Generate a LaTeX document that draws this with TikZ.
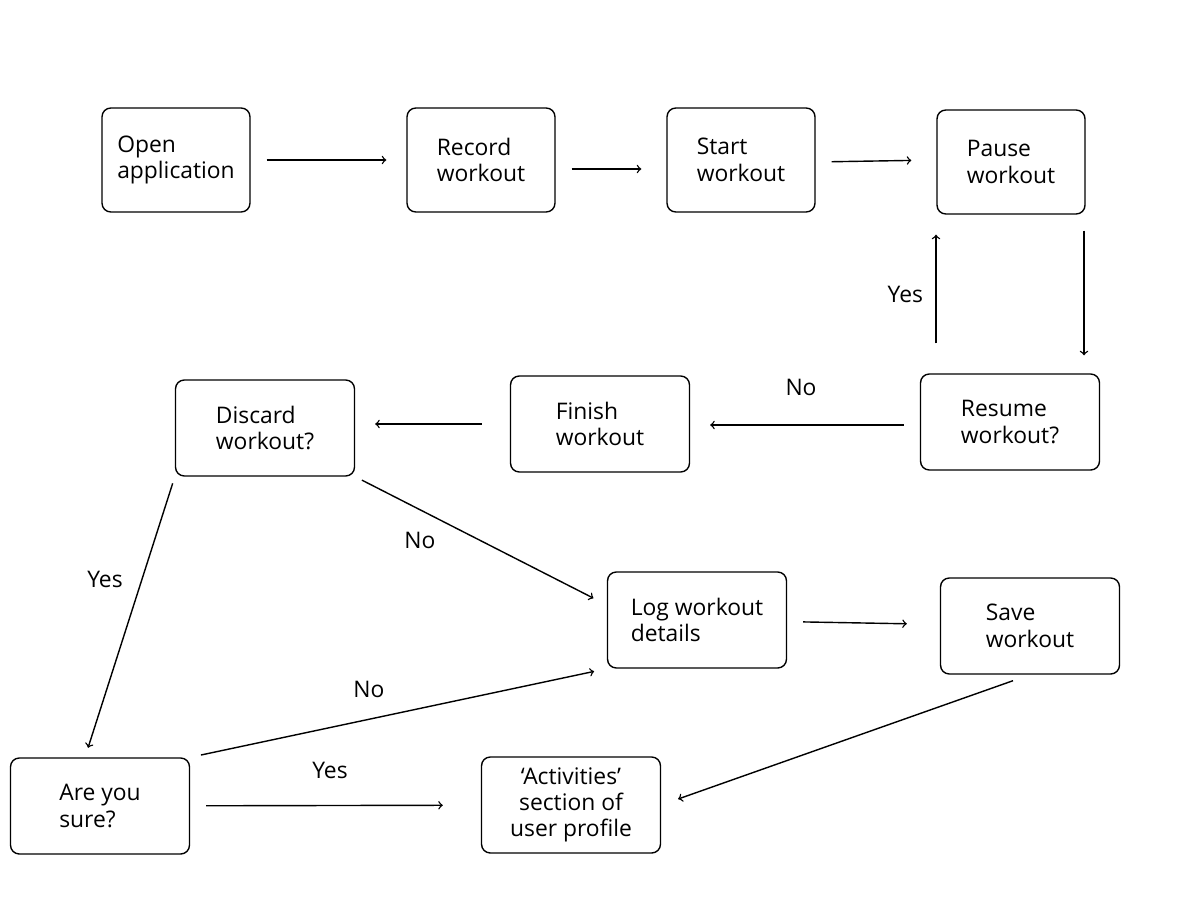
\documentclass[tikz,border=0pt]{standalone}
\usepackage{fontspec}
\setmainfont{Open Sans}
\usetikzlibrary{positioning,calc}
\begin{document}
\begin{tikzpicture}[x=0.02cm, y=-0.02cm, line width=0.8pt, font=\fontsize{13}{15}\selectfont]
    \tikzstyle{stage} = [rectangle, rounded corners=5pt, draw=black, fill=white, minimum width=2.96cm, minimum height=2.08cm, align=left]
    \tikzstyle{ask} = [rectangle, rounded corners=5pt, draw=black, fill=white, minimum width=3.58cm, minimum height=1.92cm, align=left]
    \tikzstyle{flow} = [->, >=to, shorten <=0.32cm, shorten >=0.4cm]
    \tikzstyle{tag} = [fill=none, inner sep=1pt]
    \useasboundingbox (0,0) rectangle (1200,922);

    % Top row
    \node [stage] (open) at (176,160) {Open\\application};
    \node [stage] (record) at (481,160) {Record\\workout};
    \node [stage] (start) at (741,160) {Start\\workout};
    \node [stage] (pause) at (1011,162) {Pause\\workout};

    % Middle row
    \node [ask] (resume) at (1010,422) {Resume\\workout?};
    \node [ask] (finish) at (600,424) {Finish\\workout};
    \node [ask] (discard) at (265,428) {Discard\\workout?};

    % Lower rows
    \node [ask] (log) at (697,620) {Log workout\\details};
    \node [ask] (save) at (1030,626) {Save\\workout};
    \node [ask] (sure) at (100,806) {Are you\\sure?};
    \node [ask, align=center] (activities) at (571,805) {`Activities'\\section of\\user profile};

    % Connections
    \draw [flow] (open) -- (record);
    \draw [flow, shorten >=0.5cm] (record.east |- 0,169) -- (start.west |- 0,169);
    \draw [flow, shorten >=0.5cm] (start.east |- 0,162) -- (pause.west |- 0,160);
    \draw [flow, shorten >=0.36cm] (pause.south east -| 1084,0) -- (resume.north -| 1084,0);
    \draw [flow, shorten <=0.6cm] (resume.north -| 936,0) -- node [tag, left=6pt] {Yes} (pause.south -| 936,0);
    \draw [flow, shorten >=0.4cm] (resume.west |- 0,425) -- (finish.east |- 0,425);
    \node [tag] (no1) at (801,387) {No};
    \draw [flow, shorten <=0.56cm] (finish.west |- 0,424) -- (discard.east |- 0,424);
    \draw [flow, shorten <=0.15cm, shorten >=0.3cm] (discard.south east) -- (log.west |- 0,605);
    \node [tag] (no2) at (420,540) {No};
    \draw [flow, shorten <=0.14cm, shorten >=0.2cm] (discard.south west) -- (sure.north -| 85,0);
    \node [tag] (yes2) at (105,579) {Yes};
    \draw [flow, shorten <=0.22cm, shorten >=0.26cm] (sure.north east) -- (log.south west);
    \node [tag] (no3) at (369,689) {No};
    \draw [flow, shorten >=0.76cm] (sure) -- (activities);
    \node [tag] (yes3) at (330,770) {Yes};
    \draw [flow, shorten >=0.66cm] (log) -- (save);
    \draw [flow, shorten <=0.36cm, shorten >=0.36cm] (save.south) -- (activities.east);
\end{tikzpicture}
\end{document}
